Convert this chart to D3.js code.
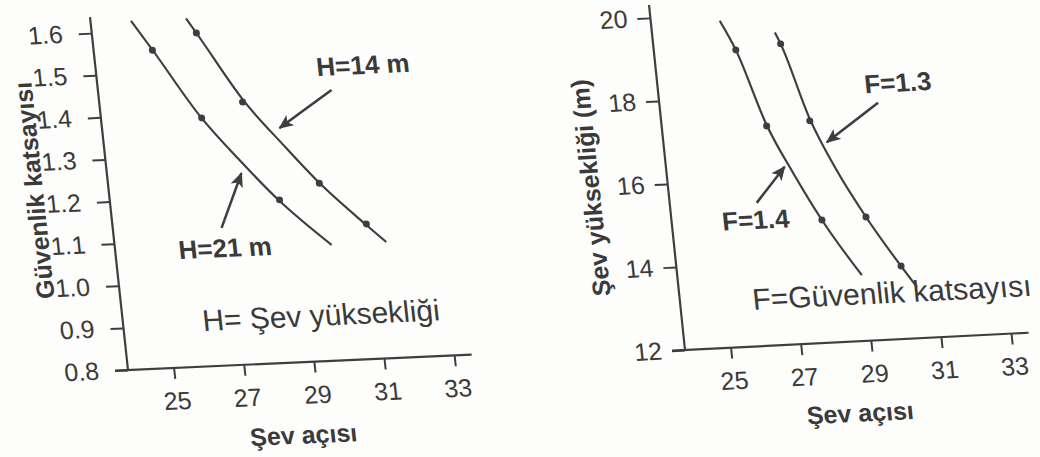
<!DOCTYPE html>
<html>
<head>
<meta charset="utf-8">
<script src="https://cdn.jsdelivr.net/npm/d3@7"></script>
<style>
  body { margin: 0; background: #fdfdfb; }
  svg { display: block; }
  text { font-family: "Liberation Sans", Arial, sans-serif; fill: #3a3a3a; }
</style>
</head>
<body>
<div class="chart"></div>
<script>
// shared x axis (Şev açısı)
var xTicks = [25, 27, 29, 31, 33];

// left panel: Güvenlik katsayısı vs Şev açısı
var leftYTicks = [0.8, 0.9, 1.0, 1.1, 1.2, 1.3, 1.4, 1.5, 1.6];
var h14Points = [[26.67, 1.589], [27.77, 1.421], [29.70, 1.221], [30.91, 1.120]];
var h21Points = [[25.37, 1.553], [26.56, 1.388], [28.52, 1.186]];
var h14Curve = [[26.42, 1.625], [26.7, 1.585], [27.8, 1.425], [28.8, 1.315], [29.7, 1.222], [30.9, 1.118], [31.42, 1.075]];
var h21Curve = [[24.85, 1.625], [25.4, 1.55], [26.5, 1.395], [27.5, 1.285], [28.5, 1.185], [29.86, 1.074]];

// right panel: Şev yüksekliği vs Şev açısı
var rightYTicks = [12, 14, 16, 18, 20];
var f13Points = [[27.32, 19.22], [27.92, 17.34], [29.23, 14.97], [30.08, 13.75]];
var f14Points = [[26.03, 19.13], [26.68, 17.27], [27.97, 14.95]];
var f13Curve = [[27.19, 19.5], [27.32, 19.22], [27.92, 17.4], [28.55, 16.1], [29.23, 14.97], [30.08, 13.75], [30.47, 13.23]];
var f14Curve = [[25.66, 19.85], [26.03, 19.13], [26.68, 17.3], [27.3, 16.1], [27.97, 14.95], [28.94, 13.58]];

var ink = '#3e3e3e';

var svg = d3.select('.chart')
  .append('svg')
    .attr('width', 1040)
    .attr('height', 457);

svg.append('defs').append('marker')
    .attr('id', 'head')
    .attr('viewBox', '0 0 12 10')
    .attr('refX', 11).attr('refY', 5)
    .attr('markerWidth', 6).attr('markerHeight', 5)
    .attr('orient', 'auto')
  .append('path')
    .attr('d', 'M0,0 L12,5 L0,10 L3,5 z')
    .attr('fill', ink);

// the scan is a little skewed, so each panel gets its own affine frame
function panel(opt) {
  var width = 344, height = opt.height;

  var g = svg.append('g')
    .attr('transform', `translate(${opt.origin[0]}, ${opt.origin[1]}) matrix(${opt.m.join(',')},0,0) translate(0, ${-height})`);

  var xScale = d3.scaleLinear().domain([23.7, 33.5]).range([0, width]);
  var yScale = d3.scaleLinear().domain(opt.yDomain).range([height, 0]);

  var xAxis = d3.axisBottom(xScale)
    .tickValues(xTicks)
    .tickSize(11)
    .tickPadding(13);

  var yAxis = d3.axisLeft(yScale)
    .tickValues(opt.yTicks)
    .tickFormat(opt.fmt)
    .tickSize(13)
    .tickPadding(opt.yPad);

  var gx = g.append('g').attr('transform', `translate(0, ${height})`).call(xAxis);
  var gy = g.append('g').call(yAxis);
  [gx, gy].forEach(function (a) {
    a.select('.domain').remove();
    a.selectAll('line').attr('stroke', ink).attr('stroke-width', 2);
    a.selectAll('text').attr('font-size', 25).attr('fill', '#404040')
      .style('font-family', '"Liberation Sans", Arial, sans-serif');
  });

  // axis lines
  g.append('line')
    .attr('x1', -13).attr('x2', width)
    .attr('y1', height).attr('y2', height)
    .attr('stroke', ink).attr('stroke-width', 2.2);
  g.append('line')
    .attr('x1', 0).attr('x2', 0)
    .attr('y1', 0).attr('y2', height)
    .attr('stroke', ink).attr('stroke-width', 2.2);

  // titles
  g.append('text')
    .attr('transform', `translate(${opt.yTitlePos[0]}, ${opt.yTitlePos[1]}) rotate(-90)`)
    .attr('text-anchor', 'middle')
    .attr('dominant-baseline', 'middle')
    .attr('font-size', 25).attr('font-weight', 'bold')
    .text(opt.yTitle);
  g.append('text')
    .attr('x', opt.xTitlePos[0]).attr('y', height + opt.xTitlePos[1])
    .attr('text-anchor', 'middle')
    .attr('dominant-baseline', 'middle')
    .attr('font-size', 25).attr('font-weight', 'bold')
    .text('Şev açısı');

  var line = d3.line()
    .x(d => xScale(d[0]))
    .y(d => yScale(d[1]))
    .curve(d3.curveMonotoneX);

  opt.series.forEach(function (s) {
    g.append('path')
      .attr('d', line(s.curve))
      .attr('fill', 'none')
      .attr('stroke', ink)
      .attr('stroke-width', 2.2);

    g.selectAll(null)
      .data(s.points)
      .enter()
      .append('circle')
      .attr('cx', d => xScale(d[0]))
      .attr('cy', d => yScale(d[1]))
      .attr('r', 3.5)
      .attr('fill', ink);

    g.append('line')
      .attr('x1', xScale(s.arrow[0][0])).attr('y1', yScale(s.arrow[0][1]))
      .attr('x2', xScale(s.arrow[1][0])).attr('y2', yScale(s.arrow[1][1]))
      .attr('stroke', ink).attr('stroke-width', 2.5)
      .attr('marker-end', 'url(#head)');

    g.append('text')
      .attr('x', xScale(s.labelAt[0])).attr('y', yScale(s.labelAt[1]))
      .attr('text-anchor', 'middle')
      .attr('dominant-baseline', 'middle')
      .attr('font-size', 26).attr('font-weight', 'bold')
      .text(s.label);
  });

  g.append('text')
    .attr('x', xScale(opt.note[0])).attr('y', yScale(opt.note[1]))
    .attr('dominant-baseline', 'middle')
    .attr('font-size', 30)
    .text(opt.noteText);
}

panel({
  origin: [128, 370],
  m: [0.999, -0.0448, 0.107, 0.994],
  height: 355,
  yDomain: [0.8, 1.638],
  yTicks: leftYTicks,
  fmt: d3.format('.1f'),
  yPad: 16,
  yTitle: 'Güvenlik katsayısı',
  yTitlePos: [-72, 171],
  xTitlePos: [168, 75],
  note: [25.96, 0.903],
  noteText: 'H= Şev yüksekliği',
  series: [
    { curve: h14Curve, points: h14Points, label: 'H=14 m', labelAt: [31.3, 1.491], arrow: [[30.33, 1.44], [28.74, 1.356]] },
    { curve: h21Curve, points: h21Points, label: 'H=21 m', labelAt: [26.83, 1.073], arrow: [[26.79, 1.126], [27.52, 1.253]] }
  ]
});

panel({
  origin: [685, 350],
  m: [0.9987, -0.0502, 0.1037, 0.9942],
  height: 347,
  yDomain: [12, 20.31],
  yTicks: rightYTicks,
  fmt: d3.format('d'),
  yPad: 10,
  yTitle: 'Şev yüksekliği (m)',
  yTitlePos: [-75, 180],
  xTitlePos: [168, 74],
  note: [25.76, 13.07],
  noteText: 'F=Güvenlik katsayısı',
  series: [
    { curve: f13Curve, points: f13Points, label: 'F=1.3', labelAt: [30.53, 18.1], arrow: [[29.91, 17.69], [28.34, 16.81]] },
    { curve: f14Curve, points: f14Points, label: 'F=1.4', labelAt: [26.09, 14.98], arrow: [[26.17, 15.44], [27.07, 16.27]] }
  ]
});
</script>
</body>
</html>
